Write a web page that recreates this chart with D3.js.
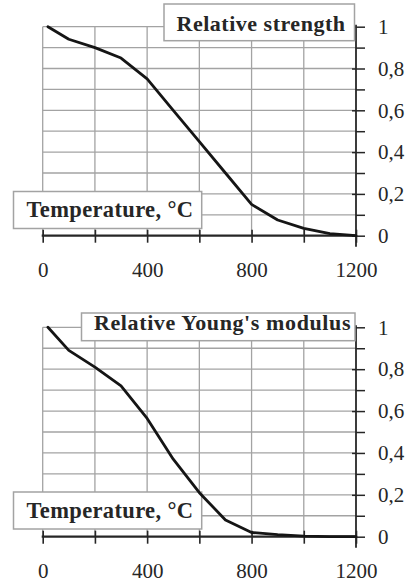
<!DOCTYPE html>
<html>
<head>
<meta charset="utf-8">
<script src="https://cdn.jsdelivr.net/npm/d3@7"></script>
<style>
  html, body { margin: 0; padding: 0; background: #fff; }
  svg { display: block; }
</style>
</head>
<body>
<div id="chart"></div>
<script>
// ---- data ----
const temperatures = [20, 100, 200, 300, 400, 500, 600, 700, 800, 900, 1000, 1100, 1200];
const relativeStrength = [1.0, 0.94, 0.90, 0.85, 0.75, 0.60, 0.45, 0.30, 0.15, 0.075, 0.035, 0.01, 0.0];
const relativeYoungs = [1.0, 0.89, 0.81, 0.72, 0.565, 0.37, 0.21, 0.08, 0.02, 0.01, 0.003, 0.0, 0.0];
const xTickValues = [0, 200, 400, 600, 800, 1000, 1200];
const xTickLabels = [0, 400, 800, 1200];
const yTickValues = [0, 0.1, 0.2, 0.3, 0.4, 0.5, 0.6, 0.7, 0.8, 0.9, 1.0];
const yTickLabels = {"0": "0", "0.2": "0,2", "0.4": "0,4", "0.6": "0,6", "0.8": "0,8", "1": "1"};
const xTitle = "Temperature, °C";
const panelTitles = ["Relative strength", "Relative Young's modulus"];

const W = 411, H = 582;
const svg = d3.select("#chart").append("svg").attr("width", W).attr("height", H);
const serif = "'Liberation Serif', 'DejaVu Serif', serif";
const gridColor = "#a3a3a3";
const inkColor = "#262626";

const x = d3.scaleLinear().domain([0, 1200]).range([42.7, 356]);

const panels = [
  { values: relativeStrength, title: panelTitles[0], yRange: [235.7, 26.7],
    titleBox: [164, 4, 354.5, 40.7], titleBase: 30.5, titleLen: 168.5,
    tBox: [13.5, 191.5, 201.7, 228.5], tBase: 216.5 },
  { values: relativeYoungs, title: panelTitles[1], yRange: [536.7, 327.3],
    titleBox: [81.5, 313, 355, 340.7], titleBase: 330, titleLen: 256.5,
    tBox: [13.5, 492, 201.7, 529], tBase: 517.5 }
];

panels.forEach(p => {
  const y = d3.scaleLinear().domain([0, 1]).range(p.yRange);
  const g = svg.append("g");

  // grid
  g.append("g").selectAll("line.v").data(xTickValues.slice(0, -1)).join("line")
    .attr("x1", d => x(d)).attr("x2", d => x(d))
    .attr("y1", y(0)).attr("y2", y(1))
    .attr("stroke", gridColor).attr("stroke-width", 1.3);
  g.append("g").selectAll("line.h").data(yTickValues.slice(1)).join("line")
    .attr("x1", x(0)).attr("x2", x(1200))
    .attr("y1", d => y(d)).attr("y2", d => y(d))
    .attr("stroke", gridColor).attr("stroke-width", 1.3);

  // bottom axis
  const xAxis = d3.axisBottom(x).tickValues(xTickValues)
    .tickSizeInner(7).tickSizeOuter(0).tickPadding(19)
    .tickFormat(d => xTickLabels.includes(d) ? d : "");
  const gx = g.append("g").attr("transform", `translate(0,${y(0)})`).call(xAxis);
  gx.select(".domain").remove();
  gx.selectAll(".tick line").attr("y1", -6).attr("stroke", inkColor).attr("stroke-width", 1.6);
  gx.selectAll(".tick text").attr("font-family", serif).attr("font-size", 21).attr("fill", inkColor);
  gx.append("line").attr("x1", x(0) - 1).attr("x2", x(1200)).attr("y1", 0).attr("y2", 0)
    .attr("stroke", inkColor).attr("stroke-width", 2.2);

  // right axis
  const yAxis = d3.axisRight(y).tickValues(yTickValues)
    .tickSizeInner(9).tickSizeOuter(0).tickPadding(13)
    .tickFormat(d => yTickLabels[String(+d.toFixed(1))] || "");
  const gy = g.append("g").attr("transform", `translate(${x(1200)},0)`).call(yAxis);
  gy.select(".domain").remove();
  gy.selectAll(".tick line")
    .attr("x1", d => (Math.round(d * 10) % 2 === 0) ? -4 : 0)
    .attr("stroke", inkColor).attr("stroke-width", 1.5);
  gy.selectAll(".tick text").attr("font-family", serif).attr("font-size", 21).attr("fill", inkColor);
  gy.append("line").attr("x1", 0).attr("x2", 0).attr("y1", y(1) - 2).attr("y2", y(0) + 11)
    .attr("stroke", inkColor).attr("stroke-width", 1.8);

  // title box
  const tb = p.titleBox;
  g.append("rect").attr("x", tb[0]).attr("y", tb[1]).attr("width", tb[2] - tb[0]).attr("height", tb[3] - tb[1])
    .attr("fill", "#fff").attr("stroke", gridColor).attr("stroke-width", 1.5);
  g.append("text").attr("x", tb[0] + 12.5).attr("y", p.titleBase)
    .attr("font-family", serif).attr("font-weight", "bold").attr("font-size", 22)
    .attr("textLength", p.titleLen).attr("lengthAdjust", "spacing")
    .attr("fill", inkColor).text(p.title);

  // temperature box
  const bb = p.tBox;
  g.append("rect").attr("x", bb[0]).attr("y", bb[1]).attr("width", bb[2] - bb[0]).attr("height", bb[3] - bb[1])
    .attr("fill", "#fff").attr("stroke", gridColor).attr("stroke-width", 1.5);
  g.append("text").attr("x", bb[0] + 13).attr("y", p.tBase)
    .attr("font-family", serif).attr("font-weight", "bold").attr("font-size", 22.5)
    .attr("textLength", 166.5).attr("lengthAdjust", "spacing")
    .attr("fill", inkColor).text(xTitle);

  // curve
  const line = d3.line().x((d, i) => x(temperatures[i])).y(d => y(d)).curve(d3.curveLinear);
  g.append("path").datum(p.values).attr("d", line)
    .attr("fill", "none").attr("stroke", "#151515").attr("stroke-width", 2.8)
    .attr("stroke-linejoin", "round").attr("stroke-linecap", "round");
});
</script>
</body>
</html>
